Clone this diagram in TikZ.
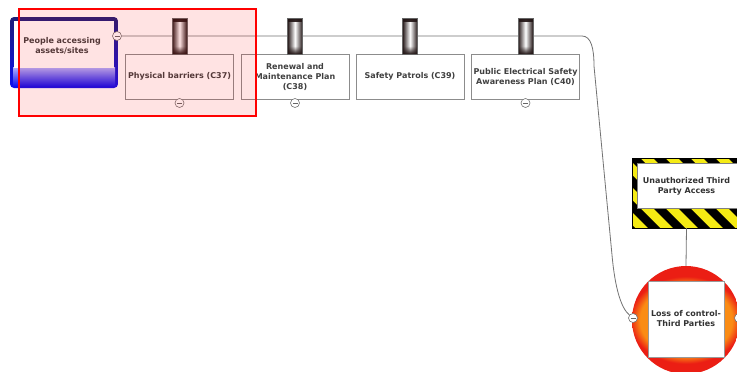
\documentclass[tikz,border=0pt]{standalone}
\usepackage{fontspec}
\setmainfont{DejaVu Sans}
\usetikzlibrary{fadings}
\definecolor{lossY}{RGB}{255,215,40}
\definecolor{lossO}{RGB}{250,140,20}
\definecolor{lossR}{RGB}{235,30,20}
\definecolor{pnavy}{RGB}{30,30,120}
\definecolor{pblue2}{RGB}{15,15,240}
\definecolor{hazY}{RGB}{245,235,20}
\definecolor{tabD}{RGB}{35,22,22}
\pgfdeclareradialshading{lossshade}{\pgfpoint{0bp}{0bp}}{color(0bp)=(lossY); color(11bp)=(lossO); color(16bp)=(lossO); color(19.5bp)=(lossR); color(25bp)=(lossR); color(50bp)=(lossR)}
\begin{document}
\begin{tikzpicture}[x=1pt,y=-1pt,
  lbl/.style={font=\fontsize{8}{10}\selectfont\bfseries, text=black!75, align=center},
  barrier/.style={draw=black!45, fill=white, line width=0.7, minimum width=108, minimum height=45, inner sep=0},
  tabstyle/.style={draw=black!60, line width=0.4, left color=tabD, right color=tabD, middle color=white, minimum width=15, minimum height=36, inner sep=0,
    path picture={\fill[tabD, path fading=south] (path picture bounding box.north west) rectangle ([yshift=14pt]path picture bounding box.east);
                  \fill[tabD, path fading=north] (path picture bounding box.south west) rectangle ([yshift=-10pt]path picture bounding box.east);}},
  minus/.style={circle, draw=black!55, fill=white, line width=0.6, minimum size=9, inner sep=0,
    path picture={\draw[black!60,line width=0.6] ([xshift=-2.5pt]path picture bounding box.center) -- ([xshift=2.5pt]path picture bounding box.center);}},
  conn/.style={draw=black!55, line width=0.8}]
\clip (0,0) rectangle (737,372);
\fill[white] (0,0) rectangle (737,372);

% people node
\shade[top color=pnavy, bottom color=pblue2, rounded corners=4] (10,17) rectangle (118,88);
\shade[top color=white!70!blue, bottom color=pblue2] (13,67) rectangle (115,86);
\fill[white] (14,21) rectangle (114,68);
\node[lbl] (people) at (62,46) {People accessing\\assets/sites};

% nodes
\node[minus] (m0) at (117,36) {};
\node[barrier,lbl] (b1) at (179.5,76.5) {Physical barriers (C37)};
\node[barrier,lbl] (b2) at (295,76.5) {Renewal and\\Maintenance Plan\\(C38)};
\node[barrier,lbl] (b3) at (410,76.5) {Safety Patrols (C39)};
\node[barrier,lbl] (b4) at (525.5,76.5) {Public Electrical Safety\\Awareness Plan (C40)};
\node[minus] (m1) at (179.5,103) {};
\node[minus] (m2) at (295,103) {};
\node[minus] (m4) at (525.5,103) {};

% loss circle
\node[circle, minimum size=108, inner sep=0] (loss) at (686,320) {};
\begin{scope}
\clip (686,320) circle (54);
\shade[shading=lossshade] (686,320) ellipse (72 and 56);
\end{scope}
\fill[white] (648,281) rectangle (724,357);
\draw[black!40, line width=0.4] (648,281) rectangle (724,357);
\node[lbl, text=black!80] (losstxt) at (686,319) {Loss of control-\\Third Parties};
\node[minus] (mL) at (633,318) {};
\node[minus] (mR) at (739,318) {};

% hazard
\begin{scope}
\clip (632,158) rectangle (745,228);
\fill[hazY] (632,158) rectangle (745,228);
\foreach \i in {-4,...,6} \fill[black] (620+\i*25,150) -- ++(12,0) -- ++(85,85) -- ++(-12,0) -- cycle;
\fill[white] (637,163) rectangle (745,208);
\end{scope}
\draw[black, line width=0.7] (632,158) rectangle (745,228);
\draw[black!50, line width=0.4] (637,163) rectangle (745,208);
\node[lbl, text=black!80] (hazard) at (686.5,186) {Unauthorized Third\\Party Access};
\coordinate (hazbot) at (686.5,228);

% connectors
\coordinate (c1) at (582,36);
\coordinate (c2) at (594,66);
\coordinate (c3) at (612,255);
\draw[conn] (m0.east) -- (c1) .. controls (591,36) and (594,48) .. (c2) -- (c3) .. controls (615,288) and (621,308) .. (mL);
\draw[conn] (hazbot) -- (loss.north);

% tabs
\node[tabstyle] (t1) at (179.5,36) {};
\node[tabstyle] (t2) at (295,36) {};
\node[tabstyle] (t3) at (410,36) {};
\node[tabstyle] (t4) at (525.5,36) {};

% highlight
\draw[red, line width=2, fill=red, fill opacity=0.11] (19,9) rectangle (256,116);
\end{tikzpicture}
\end{document}
